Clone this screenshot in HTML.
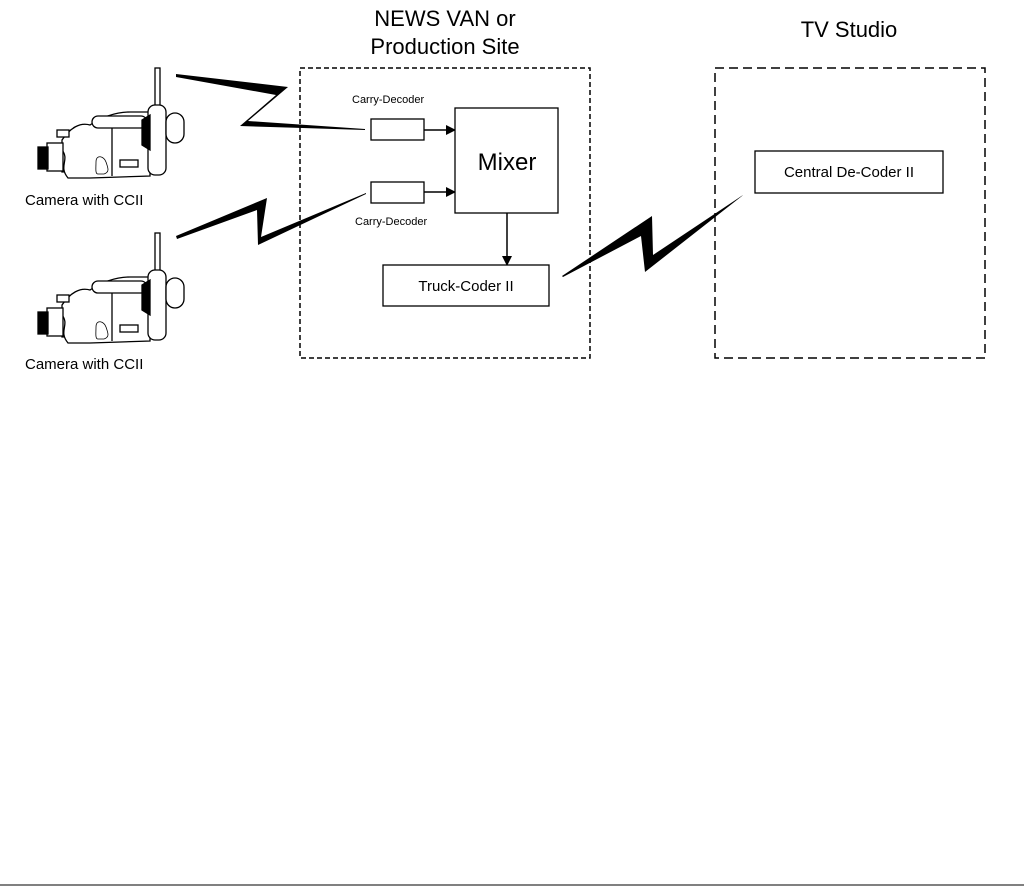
<!DOCTYPE html>
<html><head><style>
body{margin:0;background:#fff;}
svg{display:block;font-family:"Liberation Sans",Arial,sans-serif;}
</style></head><body>
<svg width="1024" height="892" viewBox="0 0 1024 892">
<defs>
<marker id="a" markerWidth="10" markerHeight="10" refX="9" refY="5" orient="auto" markerUnits="userSpaceOnUse"><path d="M0,0 L10,5 L0,10 z" fill="#000"/></marker>
<g id="cam" fill="#fff" stroke="#000" stroke-width="1.3">
<rect x="155" y="68" width="5" height="42"/>
<path d="M62,140 C70,128 80,122 90,125 C100,118 115,112 130,112 L150,112 L150,170 L62,172 Z"/>
<path d="M62,150 C70,160 58,166 68,178 L90,178 L150,176 L150,170"/>
<rect x="92" y="116" width="55" height="12" rx="6"/>
<line x1="112" y1="128" x2="112" y2="176"/>
<rect x="120" y="160" width="18" height="7"/>
<path d="M96,162 c0,-8 8,-6 10,0 c2,6 4,10 -2,12 l-6,0 c-3,0 -2,-6 -2,-12z" stroke-width="0.8"/>
<rect x="148" y="105" width="18" height="70" rx="7"/>
<rect x="166" y="113" width="18" height="30" rx="9"/>
<path d="M142,120 L150,115 L150,150 L142,145 Z" fill="#000"/>
<rect x="47" y="143" width="16" height="28"/>
<rect x="38" y="147" width="10" height="22" fill="#000"/>
<rect x="57" y="130" width="12" height="7"/>
</g>
</defs>
<text x="445" y="26" font-size="22" text-anchor="middle">NEWS VAN or</text>
<text x="445" y="54" font-size="22" text-anchor="middle">Production Site</text>
<text x="849" y="37" font-size="22" text-anchor="middle">TV Studio</text>

<rect x="300" y="68" width="290" height="290" fill="none" stroke="#000" stroke-width="1.5" stroke-dasharray="5,3"/>
<rect x="715" y="68" width="270" height="290" fill="none" stroke="#000" stroke-width="1.5" stroke-dasharray="9,5"/>

<use href="#cam"/>
<use href="#cam" transform="translate(0,165)"/>
<text x="25" y="205" font-size="15">Camera with CCII</text>
<text x="25" y="369" font-size="15">Camera with CCII</text>

<polygon points="176,74 288,87 248,121 365,129 365,130 240,126 276,95 176,77" fill="#000"/>
<polygon points="176,236 267,198 261,237 366,193 366,194 258,245 257,210 177,239" fill="#000"/>
<polygon points="562,276 652,216 653,255 743,195 742,196 645,272 641,236 563,277" fill="#000"/>

<text x="352" y="103" font-size="11">Carry-Decoder</text>
<text x="355" y="225" font-size="11">Carry-Decoder</text>
<rect x="371" y="119" width="53" height="21" fill="#fff" stroke="#000" stroke-width="1.3"/>
<rect x="371" y="182" width="53" height="21" fill="#fff" stroke="#000" stroke-width="1.3"/>
<line x1="424" y1="130" x2="455" y2="130" stroke="#000" stroke-width="1.5" marker-end="url(#a)"/>
<line x1="424" y1="192" x2="455" y2="192" stroke="#000" stroke-width="1.5" marker-end="url(#a)"/>
<rect x="455" y="108" width="103" height="105" fill="#fff" stroke="#000" stroke-width="1.3"/>
<text x="507" y="170" font-size="24" text-anchor="middle">Mixer</text>
<line x1="507" y1="213" x2="507" y2="265" stroke="#000" stroke-width="1.5" marker-end="url(#a)"/>
<rect x="383" y="265" width="166" height="41" fill="#fff" stroke="#000" stroke-width="1.3"/>
<text x="466" y="291" font-size="15" text-anchor="middle">Truck-Coder II</text>
<rect x="755" y="151" width="188" height="42" fill="#fff" stroke="#000" stroke-width="1.3"/>
<text x="849" y="177" font-size="15" text-anchor="middle">Central De-Coder II</text>

<line x1="0" y1="885" x2="1024" y2="885" stroke="#000" stroke-width="1"/>
</svg>
</body></html>
